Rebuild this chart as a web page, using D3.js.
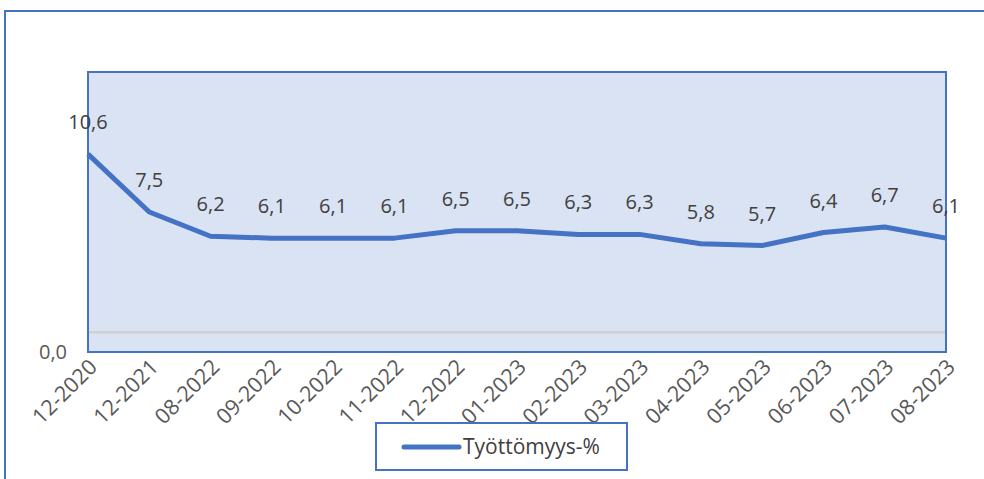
<!DOCTYPE html>
<html><head><meta charset="utf-8">
<script src="https://cdn.jsdelivr.net/npm/d3@7"></script>
<style>body{margin:0;background:#fff;}svg{display:block;font-family:"Open Sans",sans-serif;}</style>
</head><body>
<script>
const categories = ["12-2020","12-2021","08-2022","09-2022","10-2022","11-2022","12-2022","01-2023","02-2023","03-2023","04-2023","05-2023","06-2023","07-2023","08-2023"];
const values = [10.6,7.5,6.2,6.1,6.1,6.1,6.5,6.5,6.3,6.3,5.8,5.7,6.4,6.7,6.1];
const yTicks = [0];
const seriesName = "Työttömyys-%";
const gridValue = [1];

const W=984,H=479;
const svg=d3.select("body").append("svg").attr("width",W).attr("height",H);
const L=88,R=946,T=72,B=352;
const blue="#4472C4";
// outer frame
svg.append("rect").attr("x",5).attr("y",11).attr("width",W+10).attr("height",H+10).attr("fill","none").attr("stroke",blue).attr("stroke-width",2);
const x=d3.scalePoint().domain(categories).range([L,R]);
const y=d3.scaleLinear().domain([0,15]).range([B,T]);
svg.append("rect").attr("x",L).attr("y",T).attr("width",R-L).attr("height",B-T).attr("fill","#DAE3F3");
svg.selectAll(".grid").data(gridValue).join("line").attr("x1",L).attr("x2",R).attr("y1",d=>y(d)-1).attr("y2",d=>y(d)-1).attr("stroke","#D0D0D0").attr("stroke-width",2.5);
const line=d3.line().x((d,i)=>x(categories[i])).y(d=>y(d));
svg.append("path").datum(values).attr("d",line).attr("fill","none").attr("stroke",blue).attr("stroke-width",5).attr("stroke-linejoin","round");
svg.append("rect").attr("x",L).attr("y",T).attr("width",R-L).attr("height",B-T).attr("fill","none").attr("stroke",blue).attr("stroke-width",2);
// data labels
svg.selectAll(".lbl").data(values).join("text").attr("x",(d,i)=>x(categories[i])).attr("y",d=>y(d)-25)
  .attr("text-anchor","middle").attr("font-size",20).attr("fill","#404040").text(d=>d.toFixed(1).replace(".",","));
// y ticks
svg.selectAll(".yt").data(yTicks).join("text").attr("x",67).attr("y",d=>y(d)+7).attr("text-anchor","end").attr("font-size",20).attr("fill","#595959").text(d=>d.toFixed(1).replace(".",","));
// x labels
svg.selectAll(".xl").data(categories).join("text")
  .attr("transform",d=>`translate(${x(d)+5},${B+11}) rotate(-45)`)
  .attr("text-anchor","end").attr("dy","0.35em").attr("font-size",21.5).attr("fill","#595959").text(d=>d);
// legend
const lg=svg.append("g");
lg.append("rect").attr("x",376).attr("y",423).attr("width",251).attr("height",47).attr("fill","#fff").attr("stroke",blue).attr("stroke-width",2);
lg.append("line").attr("x1",404).attr("x2",459).attr("y1",447).attr("y2",447).attr("stroke",blue).attr("stroke-width",5).attr("stroke-linecap","round");
lg.append("text").attr("x",463).attr("y",454).attr("font-size",21).attr("fill","#404040").text(seriesName);
</script>
</body></html>
